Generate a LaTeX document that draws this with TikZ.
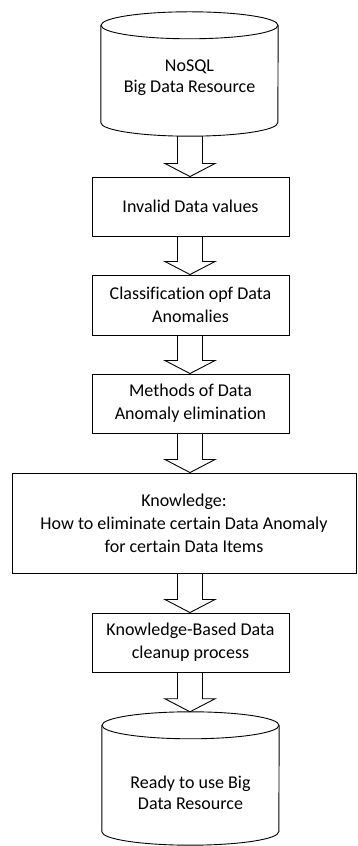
\documentclass[tikz,border=0pt]{standalone}
\usepackage{fontspec}
\setmainfont{Carlito}[Ligatures=NoCommon]
\usepackage{tikz}
\usetikzlibrary{
    positioning,
    calc
}

\begin{document}
\begin{tikzpicture}[
    x=1pt, y=1pt,
    stage/.style={rectangle, draw, line width=0.9pt, minimum height=59pt, align=center, font=\fontsize{18}{23}\selectfont},
    drum/.style={rectangle, minimum width=177pt, inner sep=0pt},
    drumtext/.style={align=center, font=\fontsize{18}{21}\selectfont},
    outline/.style={line width=0.9pt},
    fatarrow/.style={line width=0.9pt, line join=miter}
]
\useasboundingbox (0,0) rectangle (357,846);

% === SOURCE STORE (top) ===
\node[drum, minimum height=124pt] (src) at (189.5, 772) {};
\node[drumtext] (srctext) at (189.5, 768) {NoSQL\\Big Data Resource};

% === PROCESSING STAGES ===
\node[stage, minimum width=197pt] (inv) at (190.5, 639.5) {Invalid Data values};
\node[stage, minimum width=197pt, minimum height=60pt] (cls) at (190.5, 541) {Classification opf Data\\Anomalies};
\node[stage, minimum width=197pt] (mth) at (190.5, 442.5) {Methods of Data\\Anomaly elimination};
\node[stage, minimum width=344pt, minimum height=100pt] (kno) at (184, 323) {Knowledge:\\How to eliminate certain Data Anomaly\\for certain Data Items};
\node[stage, minimum width=197pt] (cln) at (190.5, 203.5) {Knowledge-Based Data\\cleanup process};

% === TARGET STORE (bottom) ===
\node[drum, minimum height=133pt] (dst) at (190.5, 67.5) {};
\node[drumtext] (dsttext) at (190.5, 53.5) {Ready to use Big\\Data Resource};

% Cylinder outlines
\foreach \n in {src,dst} {
    \draw[outline] ($(\n.north)+(0,-13.5)$) ellipse [x radius=88.5, y radius=13.5];
    \draw[outline] ($(\n.north west)+(0,-13.5)$) -- ($(\n.south west)+(0,13.5)$)
        arc[start angle=180, end angle=360, x radius=88.5, y radius=13.5]
        -- ($(\n.north east)+(0,-13.5)$);
}

% Block arrows along the centre line
\coordinate (spine) at (190, 0);
\foreach \a/\b in {src/inv, inv/cls, cls/mth, mth/kno, kno/cln, cln/dst} {
    \draw[fatarrow] ($(spine |- \a.south)+(-12.5,0)$) -- ($(spine |- \b.north)+(-12.5,13)$)
        -- ($(spine |- \b.north)+(-25,13)$) -- (spine |- \b.north)
        -- ($(spine |- \b.north)+(25,13)$) -- ($(spine |- \b.north)+(12.5,13)$)
        -- ($(spine |- \a.south)+(12.5,0)$);
}

\end{tikzpicture}
\end{document}
